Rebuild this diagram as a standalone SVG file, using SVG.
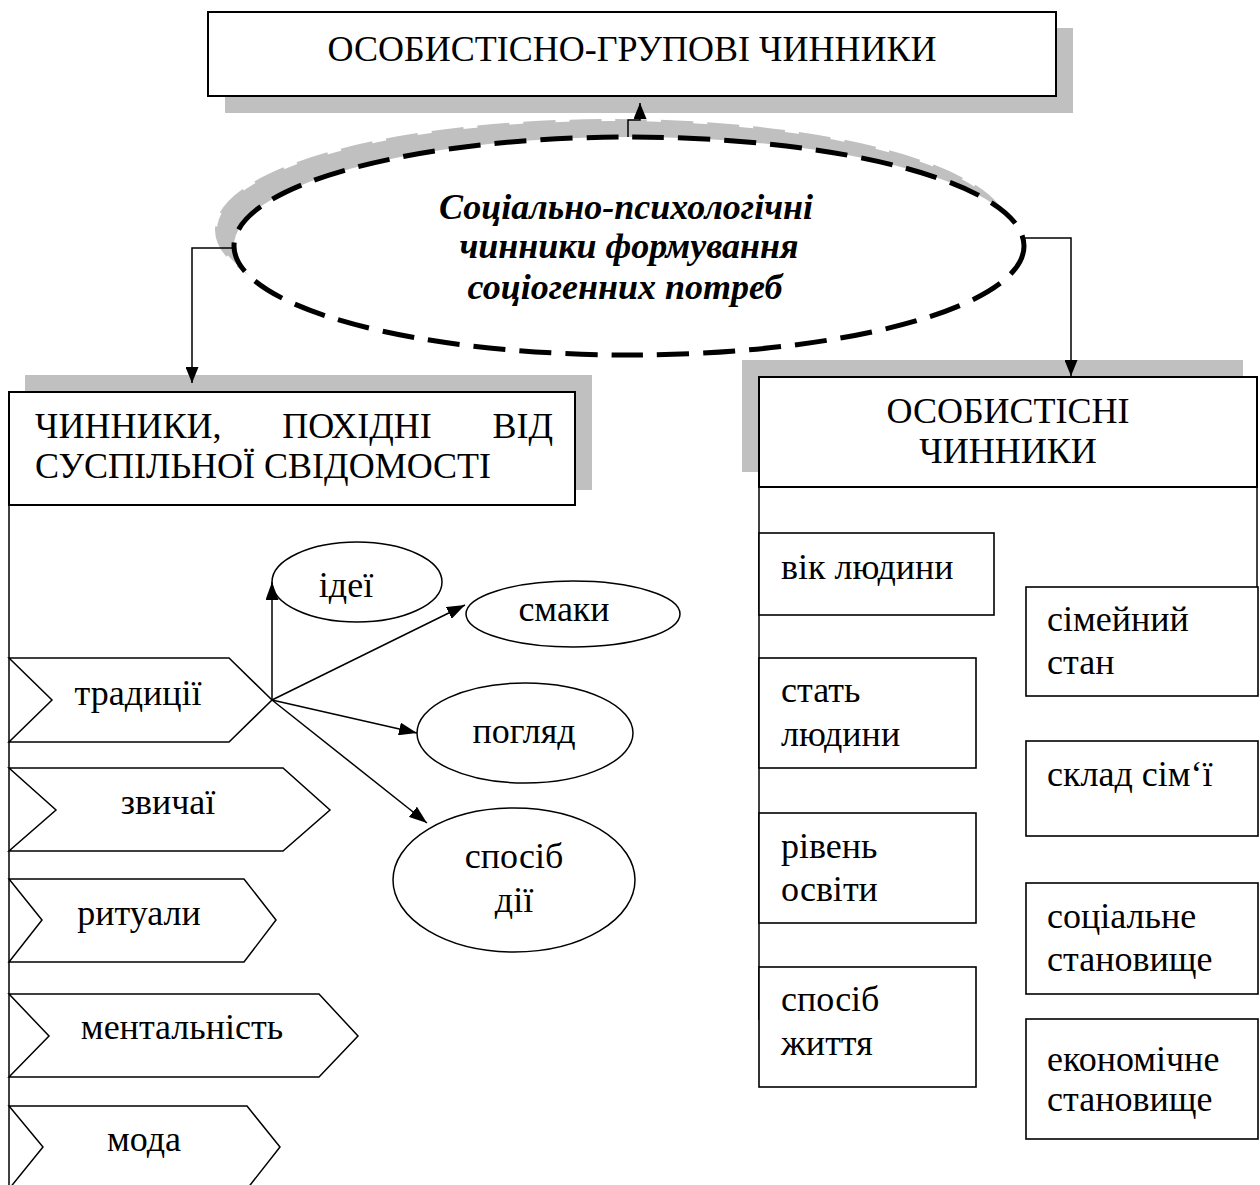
<svg xmlns="http://www.w3.org/2000/svg" width="1260" height="1185" viewBox="0 0 1260 1185">
<style>
.t{font-family:"Liberation Serif","DejaVu Serif",serif;font-size:36px;fill:#000}
.c{text-anchor:middle}
.bi{font-weight:bold;font-style:italic}
.box{fill:#fff;stroke:#000;stroke-width:2}
.sb{fill:#fff;stroke:#000;stroke-width:1.6}
.sh{fill:#c0c0c0}
.ln{fill:none;stroke:#000;stroke-width:1.5}
.ov{fill:#fff;stroke:#000;stroke-width:1.5}
</style>
<defs>
<marker id="ah" markerUnits="userSpaceOnUse" markerWidth="16" markerHeight="13" viewBox="0 0 16 13" refX="16" refY="6.5" orient="auto">
<path d="M0,0 L16,6.5 L0,13 Z" fill="#000"/>
</marker>
<marker id="ah2" markerUnits="userSpaceOnUse" markerWidth="18" markerHeight="13" viewBox="0 0 18 13" refX="18" refY="6.5" orient="auto">
<path d="M0,0 L18,6.5 L0,13 Z" fill="#000"/>
</marker>
</defs>

<g id="top-box">
<rect class="sh" x="225" y="28" width="848" height="85"/>
<rect class="box" x="208" y="12" width="848" height="84"/>
<text class="t c" x="632" y="61">ОСОБИСТІСНО-ГРУПОВІ ЧИННИКИ</text>
</g>

<g id="center-ellipse">
<ellipse cx="612" cy="230" rx="395" ry="109" fill="#c0c0c0" stroke="#c0c0c0" stroke-width="4" stroke-dasharray="32 14"/>
<ellipse cx="629" cy="246" rx="395" ry="109" fill="#fff" stroke="#000" stroke-width="5" stroke-dasharray="32 14"/>
<text class="t c bi" x="626" y="219">Соціально-психологічні</text>
<text class="t c bi" x="629" y="258">чинники формування</text>
<text class="t c bi" x="625" y="299">соціогенних потреб</text>
</g>

<g id="left-header">
<rect class="sh" x="25" y="375" width="567" height="115"/>
<rect class="box" x="9" y="392" width="566" height="113"/>
<text class="t" x="35" y="438">ЧИННИКИ,</text>
<text class="t c" x="357" y="438">ПОХІДНІ</text>
<text class="t" x="553" y="438" text-anchor="end">ВІД</text>
<text class="t" x="35" y="478">СУСПІЛЬНОЇ СВІДОМОСТІ</text>
<line class="ln" x1="9" y1="505" x2="9" y2="1185" stroke-width="2"/>
</g>

<g id="right-header">
<rect class="sh" x="742" y="360" width="501" height="112"/>
<rect class="box" x="759" y="377" width="498" height="110"/>
<text class="t c" x="1008" y="423">ОСОБИСТІСНІ</text>
<text class="t c" x="1008" y="463">ЧИННИКИ</text>
<line class="ln" x1="759" y1="487" x2="759" y2="1020" stroke-width="2"/>
<line class="ln" x1="1257" y1="487" x2="1257" y2="588" stroke-width="2"/>
</g>

<g id="chevron-tradytsii">
<path class="ov" d="M9,658 H229 L272,700 L229,742 H9 L52,700 Z"/>
<text class="t c" x="138" y="705">традиції</text>
</g>
<g id="chevron-zvychai">
<path class="ov" d="M9,768 H283 L330,810 L283,851 H9 L56,810 Z"/>
<text class="t c" x="168" y="814">звичаї</text>
</g>
<g id="chevron-rytualy">
<path class="ov" d="M9,879 H244 L276,920 L244,962 H9 L42,920 Z"/>
<text class="t c" x="139" y="925">ритуали</text>
</g>
<g id="chevron-mentalnist">
<path class="ov" d="M9,994 H319 L358,1036 L319,1077 H9 L49,1036 Z"/>
<text class="t c" x="182" y="1039">ментальність</text>
</g>
<g id="chevron-moda">
<path class="ov" d="M9,1106 H247 L280,1147 L247,1189 H9 L43,1147 Z"/>
<text class="t c" x="144" y="1151">мода</text>
</g>

<g id="ellipse-idei">
<ellipse class="ov" cx="357" cy="582" rx="85" ry="40"/>
<text class="t c" x="346" y="597">ідеї</text>
</g>
<g id="ellipse-smaky">
<ellipse class="ov" cx="573" cy="614" rx="107" ry="33"/>
<text class="t c" x="564" y="621">смаки</text>
</g>
<g id="ellipse-pohliad">
<ellipse class="ov" cx="525" cy="733" rx="108" ry="50"/>
<text class="t c" x="524" y="743">погляд</text>
</g>
<g id="ellipse-sposib-dii">
<ellipse class="ov" cx="514" cy="880" rx="121" ry="72"/>
<text class="t c" x="514" y="868">спосіб</text>
<text class="t c" x="514" y="912">дії</text>
</g>

<g id="box-vik">
<rect class="sb" x="759" y="533" width="235" height="82"/>
<text class="t" x="781" y="579">вік людини</text>
</g>
<g id="box-stat">
<rect class="sb" x="759" y="658" width="217" height="110"/>
<text class="t" x="781" y="702">стать</text>
<text class="t" x="781" y="746">людини</text>
</g>
<g id="box-riven">
<rect class="sb" x="759" y="813" width="217" height="110"/>
<text class="t" x="781" y="858">рівень</text>
<text class="t" x="781" y="901">освіти</text>
</g>
<g id="box-sposib-zhyttia">
<rect class="sb" x="759" y="967" width="217" height="120"/>
<text class="t" x="781" y="1011">спосіб</text>
<text class="t" x="781" y="1055">життя</text>
</g>
<g id="box-simeinyi">
<rect class="sb" x="1026" y="587" width="232" height="109"/>
<text class="t" x="1047" y="631">сімейний</text>
<text class="t" x="1047" y="674">стан</text>
</g>
<g id="box-sklad">
<rect class="sb" x="1026" y="741" width="232" height="95"/>
<text class="t" x="1047" y="786">склад сім‘ї</text>
</g>
<g id="box-sotsialne">
<rect class="sb" x="1026" y="883" width="232" height="111"/>
<text class="t" x="1047" y="928">соціальне</text>
<text class="t" x="1047" y="971">становище</text>
</g>
<g id="box-ekonomichne">
<rect class="sb" x="1026" y="1019" width="232" height="120"/>
<text class="t" x="1047" y="1071">економічне</text>
<text class="t" x="1047" y="1111">становище</text>
</g>

<g id="connectors">
<path class="ln" d="M628,137 V120 H640 V103" marker-end="url(#ah)"/>
<path class="ln" d="M234,248 H192 V383" marker-end="url(#ah)"/>
<path class="ln" d="M1024,238 H1071 V376" marker-end="url(#ah)"/>
<path class="ln" d="M272,700 V582" marker-end="url(#ah2)"/>
<path class="ln" d="M272,700 L465,605" marker-end="url(#ah2)"/>
<path class="ln" d="M272,700 L417,733" marker-end="url(#ah2)"/>
<path class="ln" d="M272,700 L427,823" marker-end="url(#ah2)"/>
</g>
</svg>
